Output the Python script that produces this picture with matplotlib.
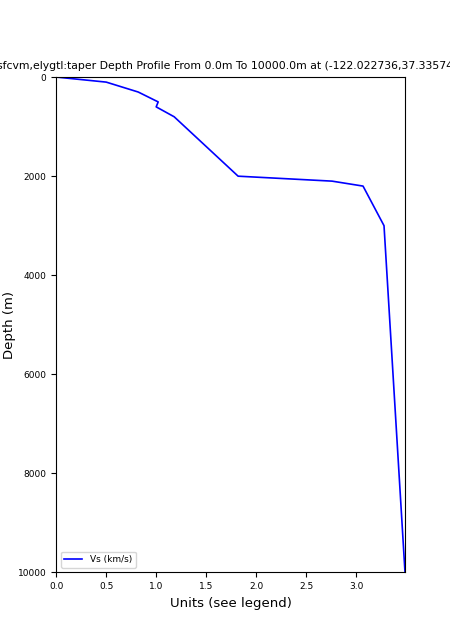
import matplotlib
matplotlib.use("Agg")
import matplotlib.pyplot as plt

# depth profile
depth = [0, 100, 300, 500, 600, 800, 2000, 2100, 2200, 3000, 10000]
vs = [0.01, 0.50, 0.82, 1.02, 1.00, 1.18, 1.82, 2.76, 3.07, 3.28, 3.49]

fig = plt.figure(figsize=(4.5, 6.43), dpi=100)
ax = fig.add_subplot(111)
ax.plot(vs, depth, color='blue', lw=1.2, label='Vs (km/s)')
ax.set_xlim(0, max(vs))
ax.set_ylim(10000, 0)
ax.set_xticks([0.0, 0.5, 1.0, 1.5, 2.0, 2.5, 3.0])
ax.tick_params(labelsize=6.5)
ax.set_xlabel('Units (see legend)', fontsize=9.5)
ax.set_ylabel('Depth (m)', fontsize=9.5, labelpad=1)
ax.set_title('sfcvm,elygtl:taper Depth Profile From 0.0m To 10000.0m at (-122.022736,37.335743)', fontsize=7.8)
ax.legend(loc='lower left', fontsize=6.5)
fig.subplots_adjust(left=0.125, right=0.9, bottom=0.11, top=0.88)

fig.savefig('out.png')
